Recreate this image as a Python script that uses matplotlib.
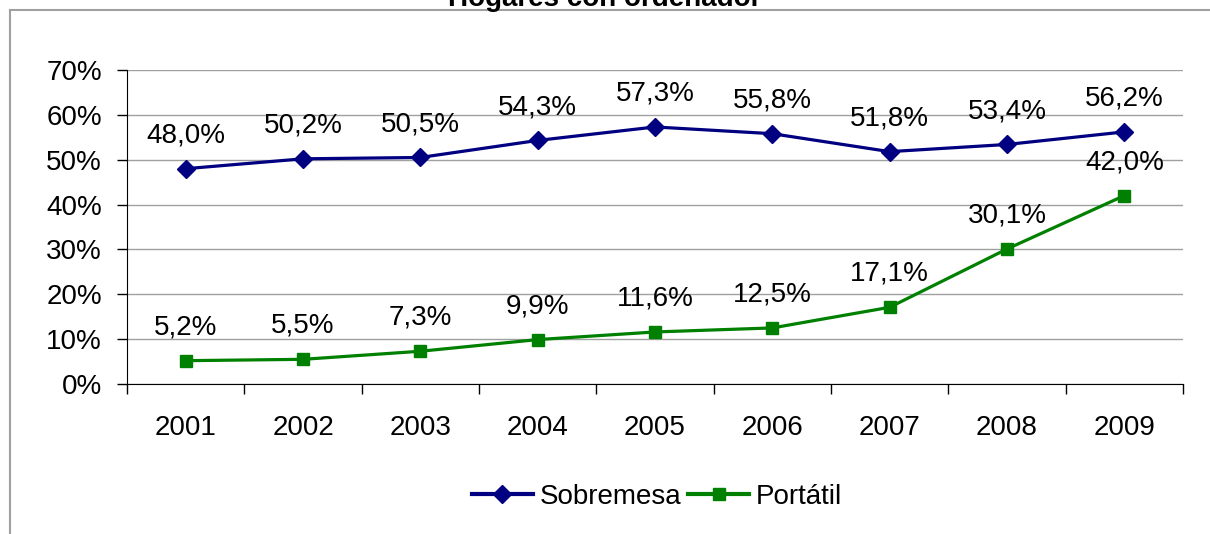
import matplotlib
matplotlib.use("Agg")
import matplotlib.pyplot as plt
from matplotlib.lines import Line2D
from matplotlib.ticker import FuncFormatter

plt.rcParams['font.family'] = ['Liberation Sans', 'DejaVu Sans']

years = ['2001', '2002', '2003', '2004', '2005', '2006', '2007', '2008', '2009']
sobremesa = [48.0, 50.2, 50.5, 54.3, 57.3, 55.8, 51.8, 53.4, 56.2]
portatil = [5.2, 5.5, 7.3, 9.9, 11.6, 12.5, 17.1, 30.1, 42.0]
yticks = [0, 10, 20, 30, 40, 50, 60, 70]

W, H = 1210, 534
fig = plt.figure(figsize=(W / 100, H / 100), dpi=100)
ax = fig.add_axes([127 / W, 1 - 384 / H, (1183 - 127) / W, (384 - 70) / H])

x = list(range(len(years)))
navy = '#000080'
green = '#008000'
fs = 20

ax.plot(x, sobremesa, color=navy, lw=2.3, marker='D', ms=9, label='Sobremesa', zorder=3)
ax.plot(x, portatil, color=green, lw=2.3, marker='s', ms=9, label='Portátil', zorder=3)

# data labels above each point
for xi, v in zip(x, sobremesa):
    ax.annotate(f'{v:.1f}%'.replace('.', ','), (xi, v), xytext=(0, 24),
                textcoords='offset points', ha='center', va='center', fontsize=fs)
for xi, v in zip(x, portatil):
    ax.annotate(f'{v:.1f}%'.replace('.', ','), (xi, v), xytext=(0, 24),
                textcoords='offset points', ha='center', va='center', fontsize=fs)

ax.set_xlim(-0.5, len(years) - 0.5)
ax.set_ylim(0, 70)
ax.set_yticks(yticks)
ax.yaxis.set_major_formatter(FuncFormatter(lambda v, p: f'{v:.0f}%'))
ax.grid(axis='y', color='#a0a0a0', lw=1)
ax.set_axisbelow(True)

# x ticks at category boundaries, labels centred
ax.set_xticks([i - 0.5 for i in range(len(years) + 1)])
ax.set_xticklabels([])
ax.set_xticks(x, minor=True)
ax.set_xticklabels(years, minor=True, fontsize=fs)
ax.tick_params(axis='x', which='minor', length=0, pad=22)
ax.tick_params(axis='x', which='major', length=7, width=1, direction='out')
ax.tick_params(axis='y', length=7, width=1, direction='out', labelsize=fs, pad=11)

for s in ['top', 'right']:
    ax.spines[s].set_visible(False)
ax.spines['left'].set_color('black')
ax.spines['bottom'].set_color('black')

leg = fig.legend(loc='center', bbox_to_anchor=(657 / W, 1 - 497 / H), ncol=2,
                 frameon=False, fontsize=fs, handlelength=2.2, columnspacing=0.25,
                 handletextpad=0.25)
for h in leg.legend_handles:
    h.set_linewidth(3)

# title, partly cut off at the top of the picture
fig.text(0.5, 1 - 6 / H, 'Hogares con ordenador', ha='center', va='baseline',
         fontsize=fs, fontweight='bold')

# outer chart frame (only top and left visible)
fig.add_artist(Line2D([10 / W, 1], [1 - 10 / H, 1 - 10 / H], color='#a0a0a0', lw=1.5,
                      transform=fig.transFigure))
fig.add_artist(Line2D([10 / W, 10 / W], [0, 1 - 10 / H], color='#a0a0a0', lw=1.5,
                      transform=fig.transFigure))

fig.savefig('out.png', dpi=100)
